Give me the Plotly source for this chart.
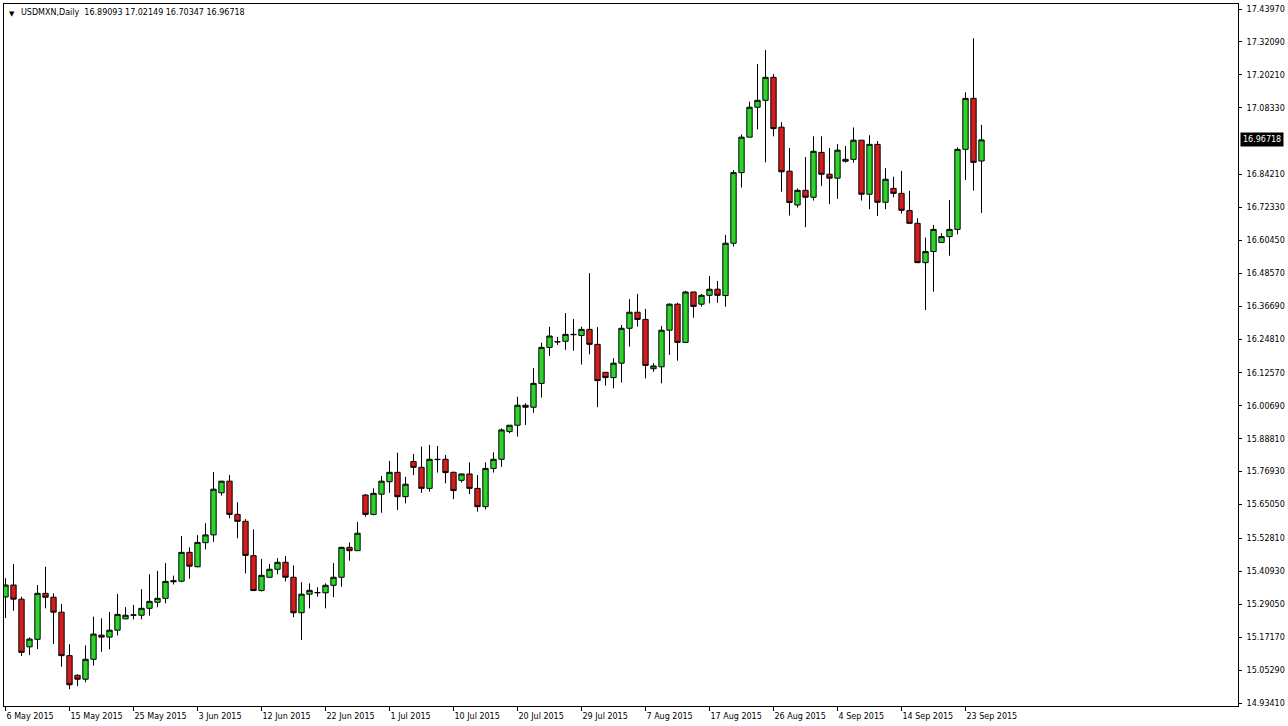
import pandas as pd
import plotly.graph_objects as go

# ---- data ----
opens = [15.317, 15.360, 15.309, 15.137, 15.164, 15.330, 15.316, 15.262, 15.105, 15.034,
         15.020, 15.092, 15.179, 15.172, 15.197, 15.238, 15.251, 15.251, 15.276, 15.298,
         15.312, 15.376, 15.374, 15.478, 15.426, 15.513, 15.541, 15.693, 15.735, 15.615,
         15.590, 15.466, 15.340, 15.388, 15.417, 15.442, 15.388, 15.260, 15.327, 15.332,
         15.332, 15.359, 15.388, 15.496, 15.484, 15.685, 15.615, 15.688, 15.733, 15.767,
         15.679, 15.806, 15.785, 15.709, 15.814, 15.814, 15.767, 15.738, 15.761, 15.709,
         15.643, 15.781, 15.814, 15.914, 15.937, 16.009, 16.002, 16.088, 16.218, 16.239,
         16.240, 16.265, 16.261, 16.283, 16.229, 16.128, 16.109, 16.161, 16.287, 16.345,
         16.319, 16.141, 16.148, 16.280, 16.374, 16.236, 16.418, 16.374, 16.406, 16.428,
         16.405, 16.594, 16.849, 16.977, 17.085, 17.110, 17.193, 17.013, 16.854, 16.732,
         16.785, 16.760, 16.922, 16.843, 16.829, 16.890, 16.897, 16.966, 16.771, 16.951,
         16.742, 16.792, 16.774, 16.712, 16.666, 16.524, 16.564, 16.597, 16.618, 16.644,
         16.933, 17.117, 16.89093]
highs = [15.385, 15.436, 15.318, 15.171, 15.360, 15.426, 15.330, 15.292, 15.146, 15.038,
         15.142, 15.246, 15.240, 15.263, 15.328, 15.280, 15.288, 15.345, 15.399, 15.411,
         15.439, 15.394, 15.537, 15.496, 15.540, 15.583, 15.768, 15.736, 15.757, 15.659,
         15.598, 15.561, 15.454, 15.436, 15.457, 15.465, 15.431, 15.370, 15.366, 15.352,
         15.366, 15.439, 15.498, 15.514, 15.588, 15.688, 15.709, 15.754, 15.808, 15.838,
         15.751, 15.833, 15.860, 15.866, 15.862, 15.829, 15.769, 15.763, 15.803, 15.757,
         15.803, 15.839, 15.926, 15.937, 16.040, 16.016, 16.143, 16.235, 16.292, 16.256,
         16.342, 16.320, 16.293, 16.486, 16.291, 16.128, 16.179, 16.299, 16.392, 16.411,
         16.357, 16.161, 16.295, 16.377, 16.379, 16.422, 16.418, 16.411, 16.476, 16.458,
         16.624, 16.858, 16.987, 17.105, 17.241, 17.292, 17.205, 17.031, 16.938, 16.792,
         16.905, 16.980, 16.980, 16.938, 16.952, 16.945, 17.012, 16.966, 16.984, 16.963,
         16.865, 16.834, 16.855, 16.783, 16.684, 16.614, 16.660, 16.630, 16.750, 16.940,
         17.139, 17.334, 17.02149]
lows = [15.241, 15.267, 15.104, 15.107, 15.129, 15.276, 15.147, 15.065, 14.984, 14.995,
        15.009, 15.069, 15.119, 15.128, 15.178, 15.237, 15.236, 15.236, 15.249, 15.280,
        15.294, 15.362, 15.370, 15.383, 15.424, 15.489, 15.516, 15.683, 15.601, 15.529,
        15.402, 15.339, 15.337, 15.387, 15.399, 15.373, 15.244, 15.162, 15.276, 15.318,
        15.276, 15.316, 15.354, 15.448, 15.484, 15.607, 15.612, 15.621, 15.693, 15.631,
        15.655, 15.757, 15.693, 15.697, 15.766, 15.727, 15.670, 15.730, 15.688, 15.625,
        15.633, 15.766, 15.787, 15.908, 15.896, 15.938, 15.982, 16.037, 16.187, 16.227,
        16.209, 16.206, 16.156, 16.193, 16.002, 16.080, 16.070, 16.091, 16.221, 16.293,
        16.106, 16.130, 16.088, 16.191, 16.170, 16.236, 16.325, 16.365, 16.377, 16.379,
        16.365, 16.582, 16.795, 16.977, 17.005, 16.886, 16.980, 16.780, 16.694, 16.723,
        16.652, 16.748, 16.801, 16.735, 16.754, 16.885, 16.885, 16.748, 16.717, 16.692,
        16.717, 16.760, 16.701, 16.666, 16.522, 16.353, 16.419, 16.597, 16.549, 16.626,
        16.822, 16.784, 16.70347]
closes = [15.360, 15.309, 15.117, 15.165, 15.330, 15.316, 15.262, 15.105, 15.000, 15.020,
          15.092, 15.183, 15.172, 15.197, 15.254, 15.251, 15.252, 15.276, 15.301, 15.312,
          15.373, 15.372, 15.478, 15.428, 15.514, 15.541, 15.706, 15.735, 15.615, 15.590,
          15.467, 15.340, 15.395, 15.417, 15.442, 15.388, 15.260, 15.327, 15.341, 15.333,
          15.359, 15.388, 15.496, 15.484, 15.547, 15.615, 15.691, 15.735, 15.767, 15.679,
          15.724, 15.785, 15.709, 15.814, 15.813, 15.766, 15.701, 15.761, 15.709, 15.643,
          15.781, 15.814, 15.920, 15.937, 16.009, 16.002, 16.088, 16.218, 16.259, 16.238,
          16.265, 16.264, 16.283, 16.229, 16.098, 16.109, 16.161, 16.287, 16.345, 16.319,
          16.153, 16.151, 16.280, 16.374, 16.236, 16.418, 16.366, 16.406, 16.428, 16.406,
          16.594, 16.849, 16.977, 17.085, 17.110, 17.193, 17.008, 16.852, 16.741, 16.785,
          16.760, 16.926, 16.843, 16.829, 16.930, 16.897, 16.966, 16.771, 16.951, 16.742,
          16.825, 16.774, 16.713, 16.666, 16.524, 16.564, 16.644, 16.618, 16.644, 16.933,
          17.117, 16.886, 16.96718]

# trading days (broker includes Sunday bars, skips Saturdays)
all_days = pd.date_range("2015-05-06", "2015-09-25", freq="D")
dates = [d.strftime("%Y-%m-%d") for d in all_days if d.weekday() != 5]

x_tick_labels = ["6 May 2015", "15 May 2015", "25 May 2015", "3 Jun 2015", "12 Jun 2015",
                 "22 Jun 2015", "1 Jul 2015", "10 Jul 2015", "20 Jul 2015", "29 Jul 2015",
                 "7 Aug 2015", "17 Aug 2015", "26 Aug 2015", "4 Sep 2015", "14 Sep 2015",
                 "23 Sep 2015"]
x_tick_dates = dates[0::8][:len(x_tick_labels)]

y_tick_labels = ["17.43970", "17.32090", "17.20210", "17.08330", "16.84210", "16.72330",
                 "16.60450", "16.48570", "16.36690", "16.24810", "16.12570", "16.00690",
                 "15.88810", "15.76930", "15.65050", "15.52810", "15.40930", "15.29050",
                 "15.17170", "15.05290", "14.93410"]
last_price = "16.96718"
header = "USDMXN,Daily  16.89093 17.02149 16.70347 16.96718"

FONT = "DejaVu Sans"
GREEN = "#2bd62b"
RED = "#d81c1c"

fig = go.Figure(go.Candlestick(
    x=dates, open=opens, high=highs, low=lows, close=closes,
    increasing=dict(line=dict(color="black", width=1), fillcolor=GREEN),
    decreasing=dict(line=dict(color="black", width=1), fillcolor=RED),
    whiskerwidth=0, hoverinfo="x+y",
))

fig.update_layout(
    width=1288, height=726,
    margin=dict(l=4, r=50, t=4, b=20, autoexpand=False),
    paper_bgcolor="white", plot_bgcolor="white",
    showlegend=False,
    boxgap=0.3, boxgroupgap=0.05,
    font=dict(family=FONT, size=8, color="black"),
    xaxis=dict(
        type="category", range=[-0.1875, 154.0625], automargin=False,
        rangeslider=dict(visible=False),
        tickmode="array", tickvals=x_tick_dates, ticktext=x_tick_labels,
        ticks="outside", ticklen=4, tickcolor="black", tickwidth=1,
        ticklabelposition="outside right", ticklabelstandoff=2,
        showgrid=False, zeroline=False,
        showline=True, linecolor="black", linewidth=1, mirror=True,
        tickfont=dict(family=FONT, size=8, color="black"),
        fixedrange=True,
    ),
    yaxis=dict(
        side="right", range=[14.92327, 17.45775], automargin=False,
        tickmode="array", tickvals=[float(v) for v in y_tick_labels], ticktext=y_tick_labels,
        ticks="outside", ticklen=3, tickcolor="black", tickwidth=1,
        ticklabelstandoff=3,
        showgrid=False, zeroline=False,
        showline=True, linecolor="black", linewidth=1, mirror=True,
        tickfont=dict(family=FONT, size=8, color="black"),
        fixedrange=True,
    ),
)

fig.add_annotation(
    xref="paper", yref="paper", x=0, y=1, xanchor="left", yanchor="top",
    xshift=3, yshift=-4, text="▼", showarrow=False,
    font=dict(family=FONT, size=7, color="black"),
)
fig.add_annotation(
    xref="paper", yref="paper", x=0, y=1, xanchor="left", yanchor="top",
    xshift=15, yshift=-2, text=header, showarrow=False,
    font=dict(family=FONT, size=8, color="black"),
)
fig.add_annotation(
    xref="paper", yref="y", x=1, y=float(last_price), xanchor="left", yanchor="middle",
    xshift=2, text=last_price, showarrow=False, bgcolor="black",
    borderpad=2, font=dict(family=FONT, size=8, color="white"),
)

fig.write_html("out.html", config={"displayModeBar": False},
               post_script="document.body.style.margin='0px';document.body.style.overflow='hidden';")
